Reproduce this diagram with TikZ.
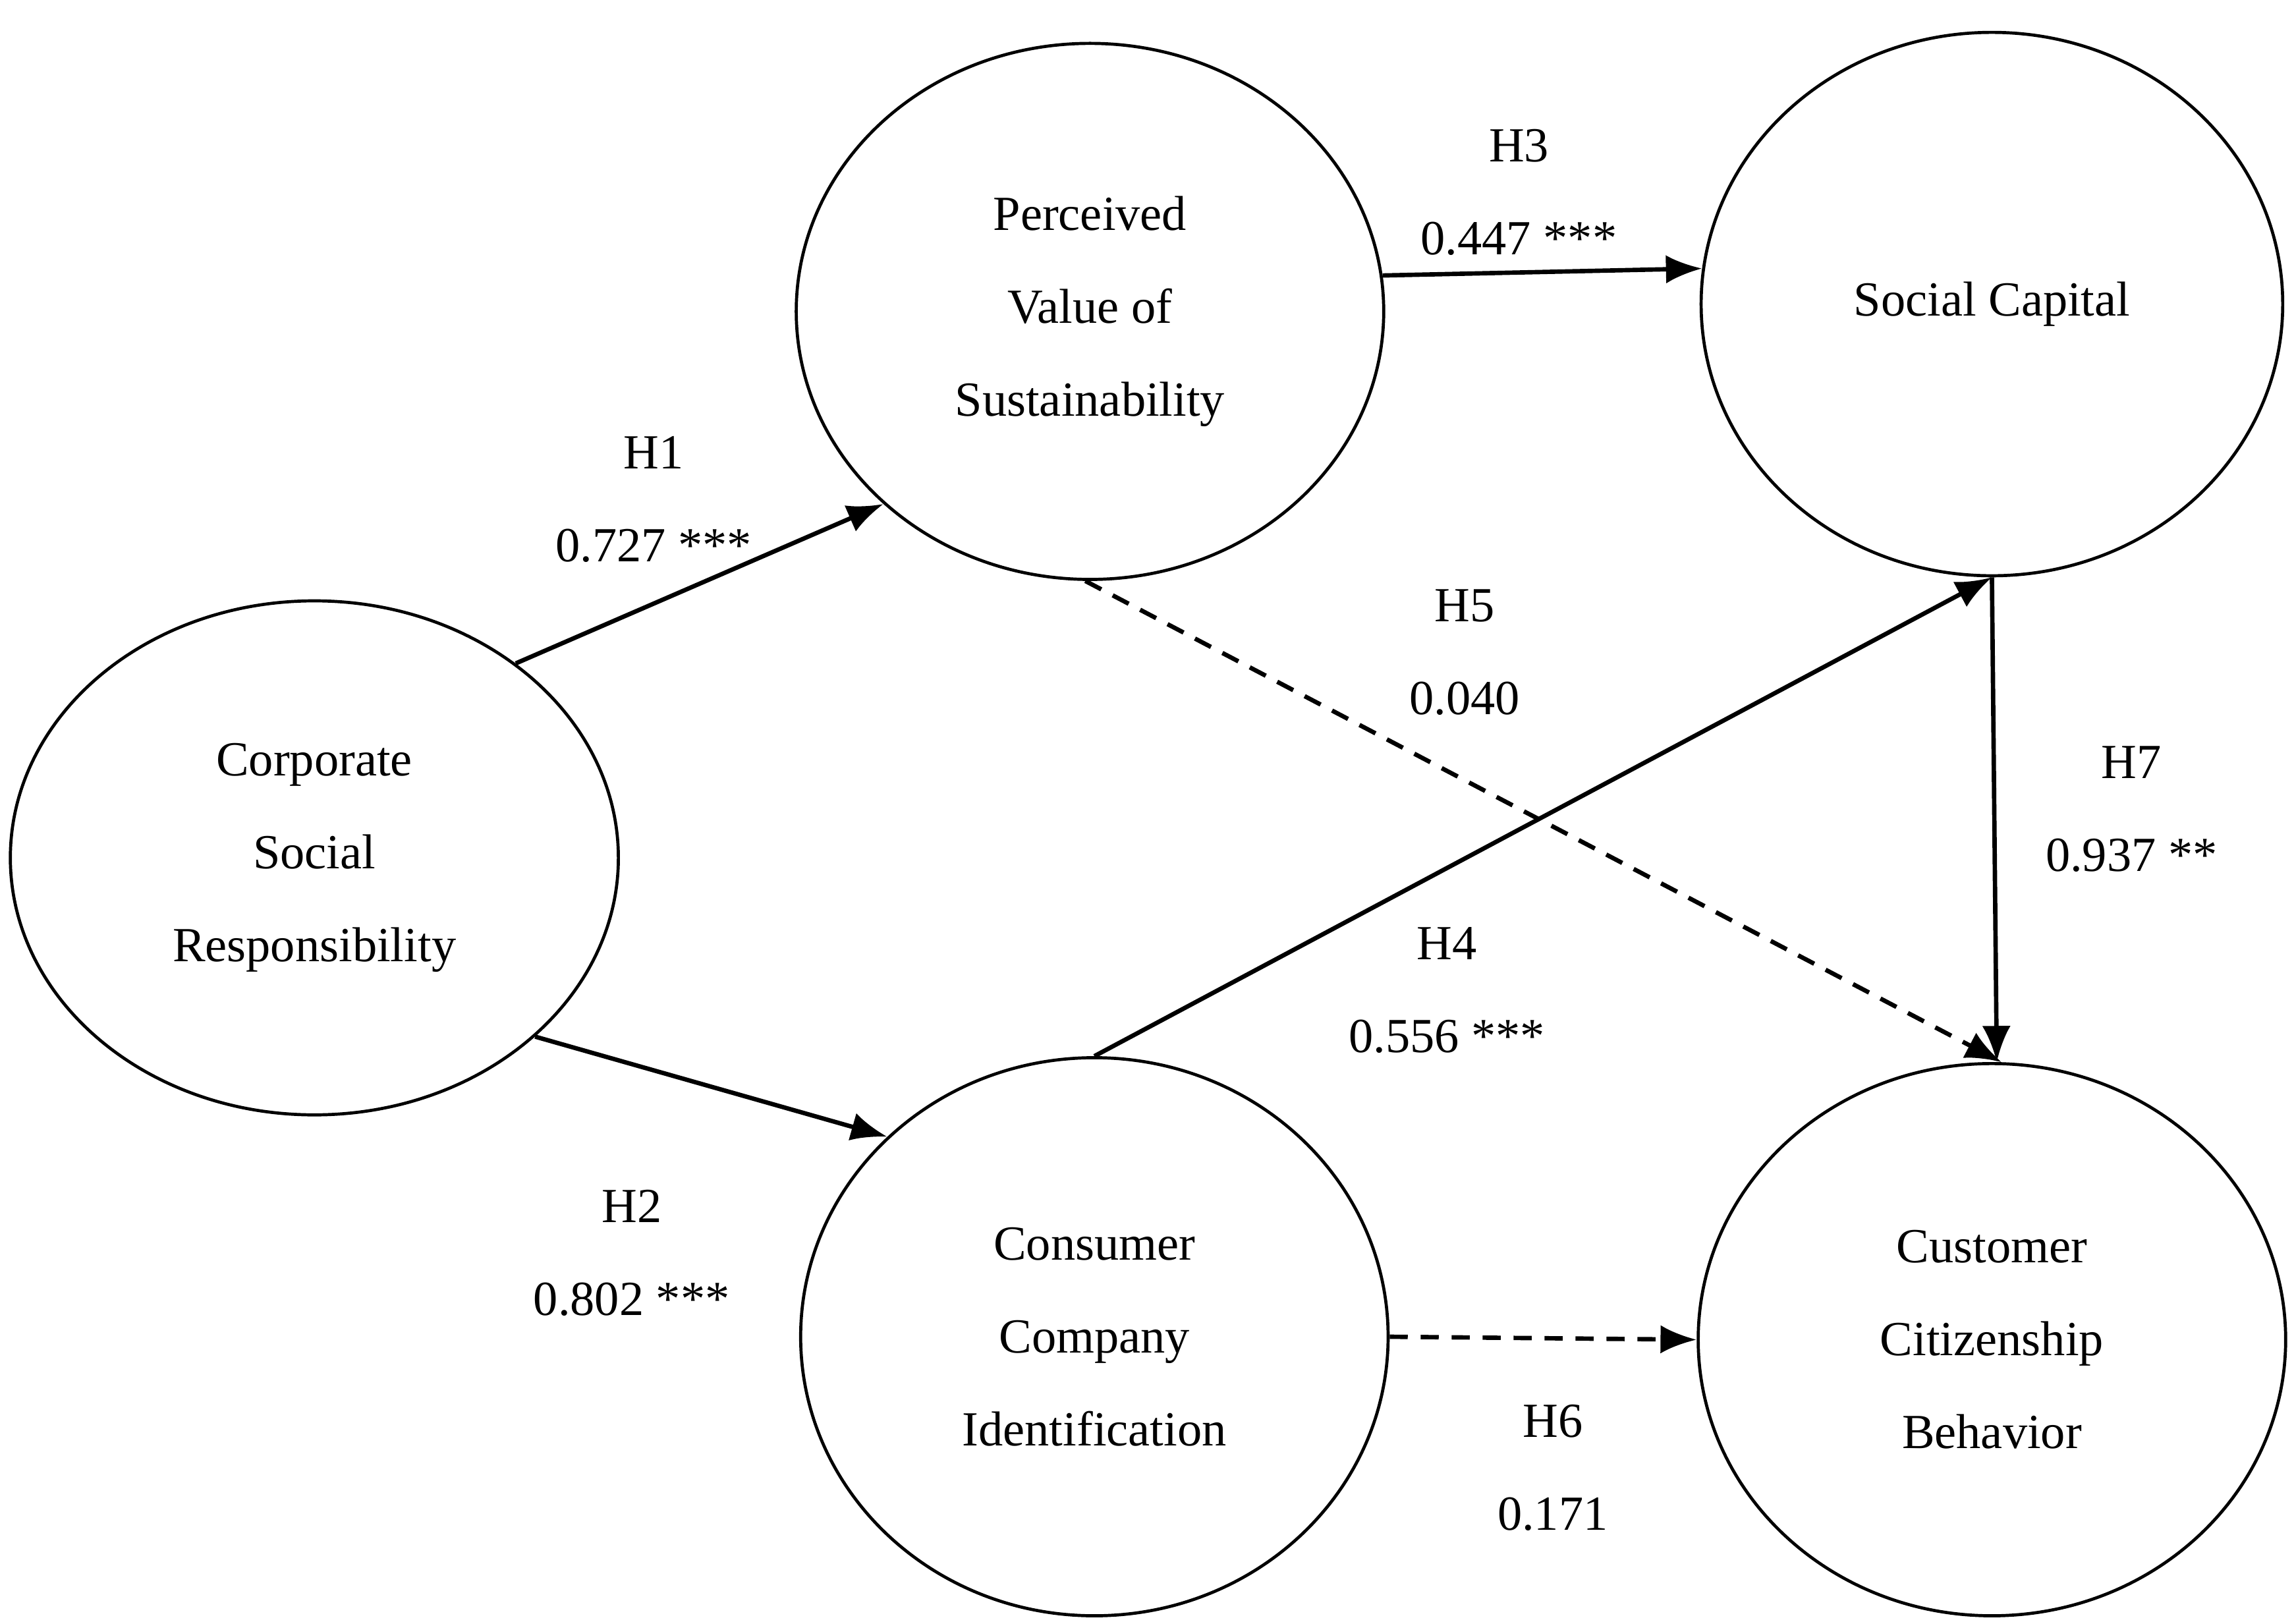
\documentclass[tikz,border=0pt]{standalone}
\usepackage{fontspec}
\setmainfont{Liberation Serif}
\usetikzlibrary{shapes.geometric,arrows.meta}
\begin{document}
\begin{tikzpicture}[x=0.02cm,y=-0.02cm,
  lat/.style={ellipse,draw,line width=1.2pt,align=center,inner sep=0pt,font=\fontsize{19}{36}\selectfont},
  lab/.style={align=center,font=\fontsize{19}{36}\selectfont},
  arr/.style={line width=1.7pt,-{Latex[length=14pt,width=11pt]}},
  dsh/.style={arr,dash pattern=on 7pt off 5pt}]
\useasboundingbox (0,0) rectangle (1563,1104);
\node[lat,minimum width=8.28cm,minimum height=7.0cm] (csr) at (214,584) {Corporate\\Social\\Responsibility};
\node[lat,minimum width=8.0cm,minimum height=7.3cm] (pvs) at (742,212) {Perceived\\Value of\\Sustainability};
\node[lat,minimum width=7.92cm,minimum height=7.4cm] (sc) at (1356,207) {Social Capital};
\node[lat,minimum width=8.0cm,minimum height=7.6cm] (cci) at (745,910) {Consumer\\Company\\Identification};
\node[lat,minimum width=8.0cm,minimum height=7.52cm] (ccb) at (1356,912) {Customer\\Citizenship\\Behavior};
\draw[arr] (csr.44.6) -- (pvs.-137.6);
\draw[arr] (csr.-39.7) -- (cci.136.1);
\draw[arr] (pvs.7.7) -- (sc.173.7);
\draw[dsh] (pvs.-91.3) -- (ccb.88.8);
\draw[arr] (cci.90) -- (sc.-90);
\draw[arr] (sc.-90.3) -- (ccb.89.3);
\draw[dsh] (cci.0) -- (ccb.180);
\node[lab] (l1) at (445,340) {H1\\0.727 ***};
\node[lab] (l3) at (1034,131) {H3\\0.447 ***};
\node[lab] (l5) at (997,444) {H5\\0.040};
\node[lab] (l7) at (1451,551) {H7\\0.937 **};
\node[lab] (l4) at (985,674) {H4\\0.556 ***};
\node[lab] (l2) at (430,853) {H2\\0.802 ***};
\node[lab] (l6) at (1057,999) {H6\\0.171};
\end{tikzpicture}
\end{document}
